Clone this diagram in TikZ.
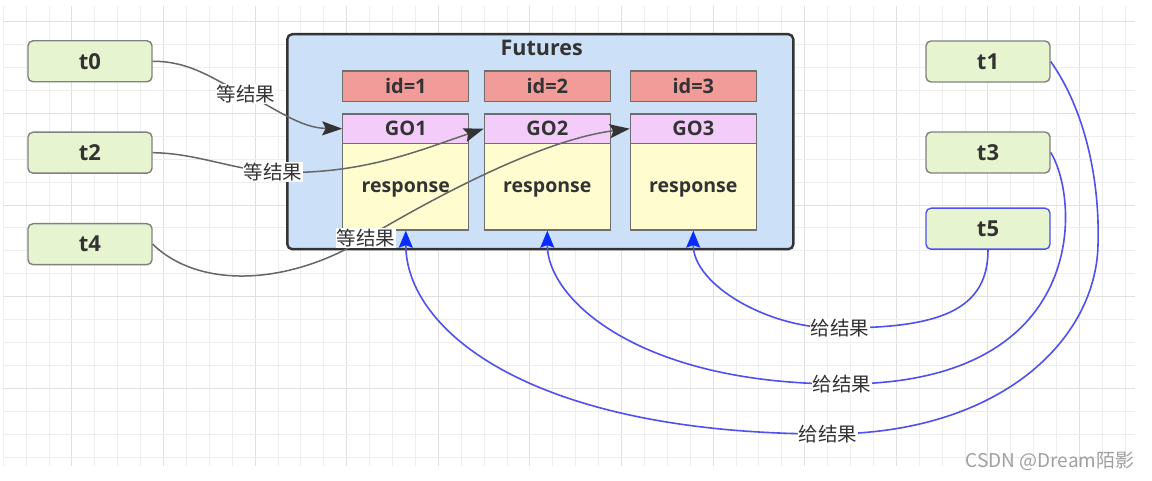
\documentclass[tikz,border=0pt]{standalone}
\usepackage{fontspec}
\setmainfont{Open Sans}
\newfontfamily\cjk{Noto Sans CJK SC}
\usetikzlibrary{arrows.meta}
\definecolor{gridminor}{HTML}{EEEEEE}
\definecolor{gridmajor}{HTML}{E0E0E0}
\definecolor{txt}{HTML}{333333}
\definecolor{tfill}{HTML}{E6F5D0}
\definecolor{tborder}{HTML}{808080}
\definecolor{futfill}{HTML}{CCE0F8}
\definecolor{idfill}{HTML}{F19C99}
\definecolor{gofill}{HTML}{F4CCFA}
\definecolor{respfill}{HTML}{FFFDD0}
\definecolor{boxborder}{HTML}{6E6E6E}
\definecolor{waitline}{HTML}{666666}
\definecolor{giveline}{RGB}{80,80,238}
\definecolor{givehead}{RGB}{10,45,255}
\definecolor{mark}{HTML}{A0A0A0}
\tikzset{
  tnode/.style={draw=tborder, fill=tfill, rounded corners=5pt, line width=1.4pt,
    minimum width=124pt, minimum height=41pt, inner sep=0pt, text=txt,
    font=\bfseries\fontsize{22}{22}\selectfont},
  futbox/.style={draw=txt, fill=futfill, rounded corners=5pt, line width=2.4pt,
    minimum width=506pt, minimum height=215pt, inner sep=0pt},
  idbox/.style={draw=boxborder, fill=idfill, line width=1.2pt, minimum width=126pt,
    minimum height=30.7pt, inner sep=0pt, text=txt, font=\bfseries\fontsize{20}{20}\selectfont},
  gobox/.style={draw=boxborder, fill=gofill, line width=1.2pt, minimum width=126pt,
    minimum height=29.3pt, inner sep=0pt, text=txt, font=\bfseries\fontsize{20}{20}\selectfont},
  respbox/.style={draw=boxborder, fill=respfill, line width=1.2pt, minimum width=126pt,
    minimum height=86.7pt, inner sep=0pt, text depth=0pt, text=txt, font=\bfseries\fontsize{19.5}{19.5}\selectfont},
  lbl/.style={fill=white, inner sep=1pt, text=txt, font=\cjk\fontsize{19.5}{19.5}\selectfont},
  wait/.style={draw=waitline, line width=1.5pt, -{Stealth[length=20pt,width=14pt,inset=3.5pt,color=txt]}},
  give/.style={draw=giveline, line width=1.6pt, -{Stealth[length=17pt,width=14pt,inset=2.5pt,color=givehead]}},
}
\begin{document}
\begin{tikzpicture}[x=1pt,y=-1pt]
\useasboundingbox (0,0) rectangle (1152,481);
\fill[white] (0,0) rectangle (1152,481);
% grid
\foreach \i in {0,...,49}{
  \pgfmathtruncatemacro{\m}{mod(\i,4)}
  \ifnum\m=3 \def\gc{gridmajor}\else\def\gc{gridminor}\fi
  \draw[\gc, line width=1pt] ({3.2+22.9*\i},6) -- ({3.2+22.9*\i},466);
}
\foreach \j in {1,...,20}{
  \pgfmathtruncatemacro{\m}{mod(\j,4)}
  \ifnum\m=1 \def\gc{gridmajor}\else\def\gc{gridminor}\fi
  \draw[\gc, line width=1pt] (3,{-1.0+22.9*\j}) -- (1135,{-1.0+22.9*\j});
}
% Futures container
\node[futbox] (fut) at (540.3,141.7) {};
\node[text=txt, font=\bfseries\fontsize{21.5}{21.5}\selectfont] (futtitle) at (541.7,48.3) {Futures};
\node[idbox] (id1) at (405.8,86.3) {id=1};
\node[idbox] (id2) at (547.3,86.3) {id=2};
\node[idbox] (id3) at (693.3,86.3) {id=3};
\node[gobox] (go1) at (405.8,128.7) {GO1};
\node[gobox] (go2) at (547.3,128.7) {GO2};
\node[gobox] (go3) at (693.3,128.7) {GO3};
\node[respbox] (r1) at (405.8,186.7) {response};
\node[respbox] (r2) at (547.3,186.7) {response};
\node[respbox] (r3) at (693.3,186.7) {response};
% threads
\node[tnode] (t0) at (90,61.3) {t0};
\node[tnode] (t2) at (90,152.7) {t2};
\node[tnode] (t4) at (90,244.2) {t4};
\node[tnode] (t1) at (988,61.5) {t1};
\node[tnode] (t3) at (988,152.5) {t3};
\node[tnode, draw=giveline] (t5) at (988,228.7) {t5};
% waiting edges
\draw[wait] (t0.east) .. controls (195,61) and (220,85) .. (246,94) node[lbl] (w1) {等结果}
  .. controls (275,108) and (300,128) .. (go1.west);
\draw[wait] (t2.east) .. controls (195,153) and (235,170) .. (273,172) node[lbl] (w2) {等结果}
  .. controls (360,176) and (420,150) .. (go2.west);
\draw[wait] (t4.east) .. controls (200,290) and (290,285) .. (366,238) node[lbl] (w3) {等结果}
  .. controls (430,200) and (540,140) .. (go3.west);
% giving edges
\draw[give] (t5.south) .. controls (988,310) and (940,328) .. (840,328) node[lbl] (g1) {给结果}
  .. controls (770,330) and (693,285) .. (r3.south);
\draw[give] (t3.east) .. controls (1080,200) and (1090,385) .. (842,384) node[lbl] (g2) {给结果}
  .. controls (640,384) and (547.3,300) .. (r2.south);
\draw[give] (t1.east) .. controls (1085,110) and (1100,180) .. (1098,245)
  .. controls (1096,340) and (1000,434) .. (828,434) node[lbl] (g3) {给结果}
  .. controls (530,434) and (405.8,330) .. (r1.south);
% watermark
\node[text=mark, font=\cjk\fontsize{19}{19}\selectfont, anchor=center] (wm) at (1050,461) {CSDN @Dream陌影};
\end{tikzpicture}
\end{document}
